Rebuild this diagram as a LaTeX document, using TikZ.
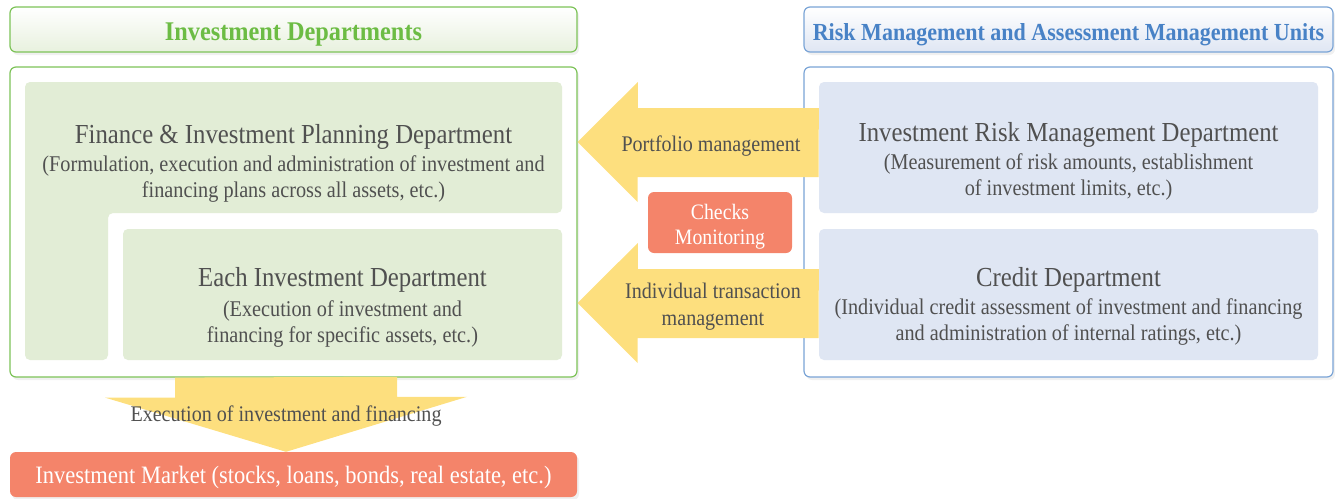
\documentclass[tikz,border=0pt]{standalone}
\usepackage{fontspec}
\setmainfont{Liberation Serif}[FakeStretch=0.9]
\usetikzlibrary{positioning,shadows}
\definecolor{invgreen}{RGB}{125,195,88}
\definecolor{invgreentext}{RGB}{108,188,68}
\definecolor{riskblue}{RGB}{122,164,214}
\definecolor{riskbluetext}{RGB}{72,130,198}
\definecolor{deptgreen}{RGB}{226,237,214}
\definecolor{deptblue}{RGB}{223,230,243}
\definecolor{flowyellow}{RGB}{253,223,126}
\definecolor{marketred}{RGB}{244,132,106}
\definecolor{textgray}{RGB}{80,80,80}
\newcommand{\deptname}{\fontsize{27.5}{30}\selectfont}

\begin{document}
\begin{tikzpicture}[
    x=1pt, y=-1pt,
    head/.style={rectangle, rounded corners=6pt, line width=1.2pt, minimum width=567pt, minimum height=45pt, text height=22pt, text depth=0pt, font=\fontsize{27}{29}\selectfont\bfseries, drop shadow={opacity=0.12, shadow xshift=2pt, shadow yshift=-3pt}},
    frame/.style={rectangle, rounded corners=6pt, line width=1.2pt, fill=white, minimum width=567pt, minimum height=310pt, drop shadow={opacity=0.12, shadow xshift=2pt, shadow yshift=-3pt}},
    dept/.style={rectangle, rounded corners=5pt, minimum width=439pt, minimum height=131pt},
    depttext/.style={align=center, text=textgray, font=\fontsize{22.5}{25.5}\selectfont},
    flow/.style={fill=flowyellow},
    flowlabel/.style={align=center, text=textgray, font=\fontsize{22.3}{27}\selectfont},
    redbox/.style={rectangle, rounded corners=6pt, fill=marketred, text=white, align=center}
]
    \useasboundingbox (0,0) rectangle (1335,498);
    % headers and frames
    \node[head, draw=invgreen, top color=white, bottom color=deptgreen!80, text=invgreentext] (invhead) at (293.5,29.5) {Investment Departments};
    \node[head, draw=riskblue, top color=white, bottom color=deptblue, text=riskbluetext, minimum width=529pt, font=\fontsize{24.5}{27}\selectfont\bfseries] (riskhead) at (1068.5,29.5) {Risk Management and Assessment Management Units};
    \node[frame, draw=invgreen] (invframe) at (293.5,222) {};
    \node[frame, draw=riskblue, minimum width=529pt] (riskframe) at (1068.5,222) {};

    % investment departments
    \fill[deptgreen, rounded corners=5pt] (25,82) -- (562,82) -- (562,213) -- (108,213) -- (108,360) -- (25,360) -- cycle;
    \node[depttext] (finance) at (293.5,163) {{\deptname Finance \& Investment Planning Department}\\[3pt]
        (Formulation, execution and administration of investment and\\financing plans across all assets, etc.)};
    \node[dept, fill=deptgreen] (eachinv) at (342.5,294.5) {};
    \node[depttext] (eachtext) at (342.5,307) {{\deptname Each Investment Department}\\[5pt]
        (Execution of investment and\\financing for specific assets, etc.)};

    % risk management units
    \node[dept, fill=deptblue, minimum width=499pt] (riskmgmt) at (1068.5,147.5) {};
    \node[depttext] (risktext) at (1068.5,161) {{\deptname Investment Risk Management Department}\\[3pt]
        (Measurement of risk amounts, establishment\\of investment limits, etc.)};
    \node[dept, fill=deptblue, minimum width=499pt] (credit) at (1068.5,294.5) {};
    \node[depttext] (credittext) at (1068.5,306) {{\deptname Credit Department}\\[3pt]
        (Individual credit assessment of investment and financing\\and administration of internal ratings, etc.)};

    % checks and market
    \node[redbox, minimum width=144pt, minimum height=61pt] (checks) at (720,222.5) {};
    \node[text=white, align=center, font=\fontsize{22}{25}\selectfont] (checkstext) at ([yshift=-4pt]checks.center) {Checks\\Monitoring};
    \node[redbox, minimum width=567pt, minimum height=45pt, text depth=0pt, font=\fontsize{25}{27}\selectfont, drop shadow={opacity=0.12, shadow xshift=2pt, shadow yshift=-3pt}] (market) at (293.5,474.5) {Investment Market (stocks, loans, bonds, real estate, etc.)};

    % flows
    \coordinate (portc) at (711,142);
    \coordinate (indc) at (713,303);
    \coordinate (execc) at (286,413);
    \fill[flow] (riskmgmt.west |- portc) ++(0,-34) -- ++(-181,0) -- ++(0,-26) -- (invframe.east |- portc) -- ++(60,60) -- ++(0,-25) -- ++(181,0) -- cycle;
    \fill[flow] (credit.west |- indc) ++(0,-34) -- ++(-181,0) -- ++(0,-26) -- (invframe.east |- indc) -- ++(60,60) -- ++(0,-25) -- ++(181,0) -- cycle;
    \fill[flow] (invframe.south -| execc) ++(-111,0) -- ++(0,20) -- ++(-70,0) -- (market.north -| execc) -- ++(181,-55) -- ++(-70,0) -- ++(0,-20) -- cycle;
    \node[flowlabel] (portlabel) at ([yshift=-4pt]portc) {Portfolio management};
    \node[flowlabel] (indlabel) at ([yshift=-4pt]indc) {Individual transaction\\management};
    \node[flowlabel] (execlabel) at ([yshift=-3pt]execc) {Execution of investment and financing};
\end{tikzpicture}
\end{document}
